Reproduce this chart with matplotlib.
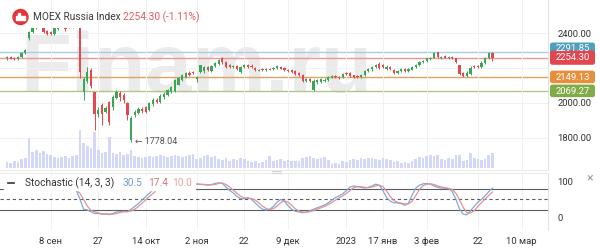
import matplotlib
matplotlib.use("Agg")
import matplotlib.pyplot as plt
import numpy as np
from matplotlib.patches import Rectangle, FancyBboxPatch, Circle

plt.rcParams['font.family'] = ['Roboto', 'DejaVu Sans']

# daily candles, index 0 = first visible session
opens = [
    2255, 2262, 2258, 2250, 2262, 2286, 2370, 2405, 2430, 2450,
    2440, 2410, 2405, 2395, 2425, 2440, 2460, 2450, 2440, 2450,
    2440, 2060, 2125, 2190, 2060, 1935, 1990, 1950, 2005, 1978,
    2030, 2057, 2046, 2000, 1789, 1930, 1945, 1966, 1975, 1960,
    1992, 2018, 2005, 2032, 2046, 2065, 2070, 2105, 2132, 2150,
    2172, 2175, 2135, 2178, 2180, 2205, 2180, 2212, 2225, 2257,
    2232, 2215, 2205, 2210, 2178, 2205, 2215, 2212, 2200, 2185,
    2192, 2186, 2195, 2192, 2198, 2208, 2198, 2190, 2186, 2180,
    2170, 2160, 2125, 2135, 2075, 2118, 2122, 2125, 2132, 2145,
    2155, 2150, 2148, 2172, 2170, 2158, 2156, 2150, 2160, 2180,
    2192, 2205, 2225, 2215, 2195, 2205, 2190, 2172, 2180, 2195,
    2180, 2190, 2205, 2218, 2232, 2240, 2250, 2258, 2290, 2258,
    2266, 2258, 2262, 2255, 2215, 2170, 2155, 2165, 2210, 2212,
    2206, 2228, 2258, 2288]
highs = [
    2266, 2268, 2263, 2268, 2290, 2310, 2410, 2440, 2455, 2460,
    2445, 2420, 2412, 2435, 2450, 2465, 2468, 2460, 2455, 2458,
    2445, 2150, 2205, 2200, 2065, 1975, 2000, 1985, 2010, 2045,
    2075, 2070, 2055, 2008, 1925, 1962, 1978, 1975, 1985, 2008,
    2030, 2028, 2052, 2060, 2082, 2098, 2135, 2150, 2165, 2178,
    2182, 2185, 2155, 2220, 2210, 2212, 2218, 2235, 2250, 2265,
    2240, 2225, 2218, 2218, 2210, 2222, 2222, 2225, 2208, 2195,
    2198, 2198, 2202, 2205, 2215, 2214, 2204, 2196, 2192, 2186,
    2176, 2165, 2142, 2142, 2135, 2138, 2142, 2140, 2152, 2158,
    2160, 2156, 2172, 2178, 2176, 2162, 2162, 2165, 2190, 2200,
    2212, 2222, 2235, 2225, 2215, 2212, 2196, 2190, 2200, 2200,
    2198, 2212, 2225, 2238, 2245, 2258, 2262, 2290, 2292, 2270,
    2272, 2268, 2268, 2260, 2220, 2178, 2180, 2210, 2218, 2218,
    2240, 2262, 2291, 2294]
lows = [
    2248, 2250, 2247, 2246, 2258, 2280, 2360, 2400, 2425, 2432,
    2400, 2390, 2388, 2390, 2415, 2435, 2410, 2428, 2430, 2436,
    2145, 2015, 2115, 2085, 1845, 1920, 1875, 1940, 1872, 1960,
    2020, 2010, 2000, 1900, 1778.04, 1920, 1938, 1945, 1940, 1952,
    1985, 2000, 1998, 2025, 2040, 2058, 2062, 2100, 2125, 2145,
    2155, 2165, 2118, 2170, 2172, 2185, 2175, 2208, 2220, 2225,
    2200, 2200, 2198, 2190, 2172, 2200, 2198, 2200, 2185, 2180,
    2182, 2180, 2188, 2186, 2192, 2192, 2185, 2175, 2172, 2160,
    2155, 2118, 2118, 2120, 2069.27, 2110, 2115, 2118, 2128, 2140,
    2142, 2138, 2142, 2160, 2148, 2142, 2145, 2145, 2155, 2175,
    2185, 2200, 2195, 2200, 2190, 2188, 2168, 2168, 2175, 2178,
    2175, 2186, 2200, 2214, 2228, 2236, 2245, 2255, 2255, 2252,
    2256, 2252, 2250, 2228, 2160, 2149.13, 2150, 2158, 2200, 2202,
    2200, 2224, 2254, 2238]
closes = [
    2262, 2254, 2250, 2263, 2286, 2305, 2405, 2430, 2445, 2440,
    2406, 2395, 2393, 2428, 2445, 2458, 2425, 2440, 2448, 2445,
    2175, 2135, 2175, 2095, 1935, 1962, 1935, 1972, 1890, 2034,
    2063, 2034, 2017, 1931, 1914, 1950, 1968, 1952, 1948, 2000,
    2015, 2006, 2040, 2050, 2074, 2090, 2131, 2143, 2160, 2171,
    2162, 2170, 2148, 2215, 2205, 2190, 2212, 2230, 2245, 2232,
    2208, 2206, 2212, 2195, 2205, 2217, 2203, 2208, 2190, 2190,
    2186, 2193, 2190, 2200, 2210, 2195, 2188, 2180, 2178, 2165,
    2160, 2125, 2138, 2128, 2128, 2130, 2137, 2134, 2148, 2152,
    2148, 2143, 2168, 2165, 2152, 2148, 2150, 2160, 2185, 2195,
    2208, 2218, 2200, 2205, 2208, 2192, 2172, 2185, 2195, 2182,
    2193, 2208, 2220, 2234, 2240, 2255, 2258, 2285, 2262, 2265,
    2260, 2262, 2255, 2235, 2165, 2155, 2172, 2200, 2204, 2206,
    2230, 2258, 2286, 2254.30]
volumes = [
    6, 5, 7, 6, 9, 10, 30, 16, 18, 15,
    17, 14, 13, 11, 10, 11, 12, 10, 12, 13,
    38, 25, 22, 20, 36, 18, 15, 16, 31, 15,
    14, 16, 13, 14, 18, 12, 11, 10, 11, 12,
    11, 12, 13, 12, 11, 12, 13, 12, 11, 12,
    13, 14, 9, 10, 12, 13, 11, 12, 9, 8,
    10, 7, 9, 8, 10, 9, 7, 6, 7, 5,
    6, 8, 12, 7, 8, 9, 7, 8, 7, 7,
    7, 10, 11, 12, 10, 9, 10, 11, 8, 4,
    5, 4, 7, 6, 8, 9, 8, 10, 9, 10,
    10, 9, 8, 10, 9, 8, 6, 7, 5, 6,
    5, 7, 9, 11, 10, 12, 13, 12, 13, 9,
    8, 10, 9, 13, 13, 7, 8, 15, 10, 9,
    8, 9, 13, 15]
stoch_k = [
    88, 90, 92, 93, 94, 95, 96, 96, 95, 94,
    92, 90, 80, 76, 78, 80, 79, 77, 76, 75,
    50, 22, 20, 15, 10, 10, 8, 8, 7, 10,
    14, 15, 16, 15, 22, 30, 38, 48, 58, 67,
    77, 85, 92, 96, 97, 96, 95, 94, 93, 94,
    95, 94, 93, 92, 92, 90, 92, 95, 97, 95,
    85, 75, 68, 58, 52, 52, 55, 50, 40, 30,
    22, 20, 22, 30, 42, 50, 45, 32, 22, 16,
    14, 12, 14, 18, 22, 26, 30, 34, 40, 48,
    55, 60, 66, 75, 85, 88, 86, 84, 82, 84,
    88, 93, 90, 75, 55, 45, 40, 40, 38, 33,
    40, 62, 82, 90, 94, 95, 93, 88, 84, 82,
    82, 80, 72, 50, 22, 8, 6, 18, 30, 42,
    50, 60, 72, 82]
stoch_d = [
    85, 87, 89, 91, 92, 93, 94, 95, 95, 95,
    94, 92, 87, 82, 78, 78, 79, 78, 76, 76,
    67, 49, 31, 19, 15, 12, 9, 9, 8, 8,
    10, 13, 15, 15, 17, 22, 30, 39, 48, 58,
    67, 76, 85, 91, 95, 96, 96, 95, 94, 94,
    94, 94, 94, 93, 92, 91, 91, 92, 95, 96,
    92, 85, 76, 67, 59, 54, 53, 52, 48, 40,
    31, 24, 21, 24, 31, 41, 46, 42, 33, 23,
    17, 14, 13, 15, 18, 22, 26, 30, 35, 41,
    48, 54, 60, 67, 75, 83, 86, 86, 84, 83,
    85, 88, 90, 86, 73, 58, 47, 42, 39, 37,
    37, 45, 61, 78, 89, 93, 94, 92, 88, 85,
    83, 81, 78, 67, 48, 27, 12, 11, 18, 30,
    41, 51, 61, 71]

tick_pos = [12, 25, 38, 52, 65, 77, 93, 103, 115, 129, 141]
tick_labels = ["8 сен", "27", "14 окт", "2 ноя", "22", "9 дек",
               "2023", "17 янв", "3 фев", "22", "10 мар"]

price_grid = [1800, 2000, 2200, 2400]
price_labels = ["1800.00", "2000.00", "", "2400.00"]
level_values = [2291.85, 2069.27, 2149.13, 2254.30]
level_lines = ['#aacde2', '#aec788', '#dda265', '#ec9797']
level_boxes = ['#4f9fc0', '#80ab46', '#e88f3c', '#e0474f']

last_change = -1.11
stoch_legend = [30.5, 17.4, 10.0]

UP, DOWN = '#3aa757', '#e5484d'
W, H = 600, 248


def rect(x0, y0, x1, y1):
    # pixel box -> figure fraction
    return [x0 / W, 1 - y1 / H, (x1 - x0) / W, (y1 - y0) / H]


def py(price):
    # price -> pixel row, used only for overlay labels on the right
    return 33 + (2400 - price) * 0.175


fig = plt.figure(figsize=(6, 2.48), dpi=100)
idx = np.arange(len(closes))
xlim = (-1.918, 148.22)

# ---- price panel ----
ax = fig.add_axes(rect(0, 0, 548, 170))
# volume overlay at bottom of price panel (twinx resets tick side, so make it first)
axv = ax.twinx()
axv.set_ylim(-2, 168)
axv.bar(idx, volumes, width=0.72, color='#d3d7f9', lw=0, zorder=1)
axv.axis('off')

ax.set_xlim(*xlim)
ax.set_ylim(1617.1, 2588.6)
ax.set_xticks(tick_pos)
ax.set_xticklabels([])
ax.set_yticks(price_grid)
ax.set_yticklabels(price_labels)
ax.yaxis.tick_right()
ax.tick_params(axis='both', length=0)
ax.tick_params(axis='y', pad=7, labelsize=6.8, labelcolor='#333333')
ax.grid(color='#efefef', lw=0.6)
for s in ['top', 'left']:
    ax.spines[s].set_visible(False)
ax.spines['right'].set_color('#e2e2e2')
ax.spines['bottom'].set_color('#ececec')
ax.spines['right'].set_linewidth(0.8)
ax.spines['bottom'].set_linewidth(0.8)

ax.text(20 / 548, 1 - 92 / 170, "Finam.ru", transform=ax.transAxes,
        fontsize=60, fontweight='bold', color='#ebebeb',
        family=['Liberation Sans', 'DejaVu Sans'], va='baseline', zorder=0.5)

for val, col in zip(level_values, level_lines):
    ax.axhline(val, color=col, lw=1.0, zorder=1.5)

clip = Rectangle((-10, 1500), 170, 2429 - 1500, transform=ax.transData)
o = np.array(opens)
c = np.array(closes)
colors = [UP if cc >= oo else DOWN for oo, cc in zip(o, c)]
wicks = ax.vlines(idx, lows, highs, colors=colors, lw=0.7, zorder=2)
wicks.set_clip_path(clip)
body_h = np.maximum(np.abs(c - o), 2)
bodies = ax.bar(idx, body_h, bottom=np.minimum(o, c), width=0.62,
                color=colors, lw=0, zorder=3)
for b in bodies:
    b.set_clip_path(clip)

low_i = int(np.argmin(lows))
ax.annotate(f"← {lows[low_i]:.2f}", xy=(low_i, lows[low_i]),
            xytext=(3, 0), textcoords='offset points', va='center',
            fontsize=6.5, color='#555555', zorder=4)

# ---- stochastic panel ----
axs = fig.add_axes(rect(0, 173, 548, 230))
axs.set_xlim(*xlim)
axs.set_ylim(-36.8, 124.6)
axs.set_xticks(tick_pos)
axs.set_xticklabels(tick_labels)
axs.set_yticks([0, 100])
axs.set_yticklabels(["0", "100"])
axs.yaxis.tick_right()
axs.tick_params(axis='both', length=0, labelsize=6.8, labelcolor='#333333')
axs.tick_params(axis='x', pad=5)
axs.tick_params(axis='y', pad=7)
axs.grid(axis='x', color='#efefef', lw=0.6)
for s in ['left', 'bottom']:
    axs.spines[s].set_visible(False)
axs.spines['top'].set_color('#ececec')
axs.spines['right'].set_color('#e2e2e2')
axs.spines['top'].set_linewidth(0.8)
axs.spines['right'].set_linewidth(0.8)
axs.axhline(80, color='#5c5c5c', lw=0.8)
axs.axhline(20, color='#5c5c5c', lw=0.8)
axs.axhline(50, color='#5c5c5c', lw=0.8, ls=(0, (3, 2.5)))
axs.plot(idx, stoch_k, color='#7eaad8', lw=0.9)
axs.plot(idx, stoch_d, color='#e39292', lw=0.9)

# ---- overlay (pixel coordinates) ----
ov = fig.add_axes([0, 0, 1, 1])
ov.set_xlim(0, W)
ov.set_ylim(H, 0)
ov.axis('off')

# header legend
ov.add_patch(Circle((20.5, 17), 7.5, color='#e3353b'))
ov.add_patch(Rectangle((16, 15.5), 9, 4.5, color='white'))
ov.add_patch(Rectangle((18, 13), 2, 2.5, color='white'))
ov.text(33, 17.5, "MOEX Russia Index", fontsize=7.3, color='#3a3a3a', va='center')
ov.text(123, 17.5, f"{closes[-1]:.2f} ({last_change:.2f}%)", fontsize=7.3,
        color='#e05a5e', va='center')

# price tags on the right (blue tag sits mostly behind the red one)
for val, col in zip(level_values, level_boxes):
    yc = py(val)
    top, bot = yc - 6.3, yc + 6.3
    if col == level_boxes[0]:
        yc -= 3.4
        top, bot = yc - 6, yc + 6
    if col == level_boxes[-1]:
        top = 50.5
    ov.add_patch(FancyBboxPatch((550, top), 45, bot - top,
                                boxstyle="round,pad=0,rounding_size=2.5",
                                fc=col, ec='none'))
    ty = yc + 0.3 if col != level_boxes[-1] else (top + bot) / 2 + 0.3
    ov.text(572.5, ty, f"{val:.2f}", fontsize=6.8, color='white',
            ha='center', va='center')

# stochastic legend
ov.add_patch(Rectangle((4, 175.5), 191, 14.5, color='white'))
ov.plot([8, 14], [183, 183], color='#333333', lw=1.2)
ov.text(25, 183, "Stochastic (14, 3, 3)", fontsize=7.3, color='#333333', va='center')
for xx, v, col in zip([123, 148, 172], stoch_legend, ['#6f9cc9', '#d9777a', '#e8a3a3']):
    ov.text(xx, 183, f"{v:.1f}", fontsize=7.3, color=col, va='center')

ov.text(590, 178, "×", fontsize=9, color='#9a9a9a', ha='center', va='center')
ov.plot([272, 281], [170.5, 170.5], color='#d5d5d5', lw=0.8)
ov.plot([272, 281], [172.5, 172.5], color='#d5d5d5', lw=0.8)

fig.savefig("out.png", dpi=100, facecolor='white')
